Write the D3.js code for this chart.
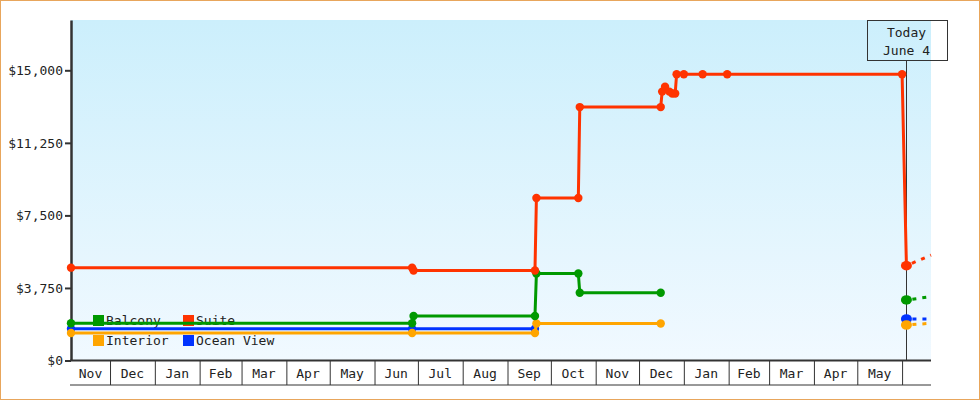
<!DOCTYPE html>
<html><head><meta charset="utf-8">
<script src="https://cdn.jsdelivr.net/npm/d3@7"></script>
<style>
html,body{margin:0;padding:0;background:#fff;}
svg{display:block;}
text{font-family:"DejaVu Sans Mono",monospace;font-size:13px;fill:#222;}
</style></head><body>
<svg id="chart" width="980" height="400"></svg>
<script>
// ---- data ----
const categories = ["Balcony", "Suite", "Interior", "Ocean View"];
const colors = ["#009900", "#ff3300", "#ffa500", "#0033ff"];

const balconyDates = ["2023-11-04","2024-06-27","2024-06-28","2024-09-20","2024-09-21","2024-10-20","2024-10-21","2024-12-16"];
const balconyPrices = [1925, 1925, 2299, 2299, 4499, 4499, 3499, 3499];

const suiteDates = ["2023-11-04","2024-06-27","2024-06-28","2024-09-20","2024-09-21","2024-10-20","2024-10-21","2024-12-16","2024-12-17","2024-12-19","2024-12-22","2024-12-24","2024-12-26","2024-12-27","2025-01-01","2025-01-14","2025-01-31","2025-06-01","2025-06-04"];
const suitePrices = [4799, 4799, 4649, 4649, 8399, 8399, 13099, 13099, 13899, 14149, 13899, 13799, 13799, 14799, 14799, 14799, 14799, 14799, 4899];

const interiorDates = ["2023-11-04","2024-06-27","2024-09-20","2024-09-21","2024-12-16"];
const interiorPrices = [1421, 1421, 1421, 1910, 1910];

const oceanDates = ["2023-11-04","2024-06-27","2024-09-20"];
const oceanPrices = [1640, 1640, 1640];

const todayDate = "2025-06-04";
const todayLabel = ["Today", "June 4"];
const todayPrices = [3129, 4899, 1835, 2145];     // Balcony, Suite, Interior, Ocean View
const projectionEnd = "2025-06-21";
const projectedPrices = [3298, 5450, 1923, 2145];

const axisStart = "2023-11-04";
const yTicks = [0, 3750, 7500, 11250, 15000];
const yMax = 17600;

// ---- build ----
const parse = d3.utcParse("%Y-%m-%d");
const seriesDates = [balconyDates, suiteDates, interiorDates, oceanDates];
const seriesPrices = [balconyPrices, suitePrices, interiorPrices, oceanPrices];
const series = categories.map((c, i) => ({
  name: c, color: colors[i],
  points: seriesDates[i].map((d, j) => ({date: parse(d), price: seriesPrices[i][j]})),
  today: {date: parse(todayDate), price: todayPrices[i]},
  proj: {date: parse(projectionEnd), price: projectedPrices[i]}
}));

const svg = d3.select("#chart");
const L = 71, R = 931, T = 20, B = 360.5, AX = 385;

const x = d3.scaleUtc().domain([parse(axisStart), parse(projectionEnd)]).range([L, R]);
const y = d3.scaleLinear().domain([0, yMax]).range([B, T]);

// outer border
svg.append("rect").attr("x", 0.5).attr("y", 0.5).attr("width", 979).attr("height", 399)
  .attr("fill", "none").attr("stroke", "#e8a65c");

// background gradient
const defs = svg.append("defs");
const grad = defs.append("linearGradient").attr("id", "bg").attr("x1", 0).attr("y1", 0).attr("x2", 0).attr("y2", 1);
grad.append("stop").attr("offset", "0%").attr("stop-color", "#cceffc");
grad.append("stop").attr("offset", "100%").attr("stop-color", "#f1f9ff");
svg.append("rect").attr("x", L).attr("y", T).attr("width", R - L).attr("height", B - T).attr("fill", "url(#bg)");

// y axis
const yAxis = d3.axisLeft(y).tickValues(yTicks).tickSize(6).tickSizeOuter(0).tickPadding(2)
  .tickFormat(d => "$" + d3.format(",")(d));
const gy = svg.append("g").attr("transform", `translate(${L},0)`).call(yAxis);
gy.select(".domain").attr("stroke", "#333").attr("stroke-width", 2.5);
gy.selectAll(".tick line").attr("stroke", "#333").attr("stroke-width", 2);
gy.selectAll(".tick text").attr("font-family", "DejaVu Sans Mono, monospace").attr("font-size", 13).attr("fill", "#333");

// x axis month boxes
const months = d3.utcMonth.range(d3.utcMonth.ceil(x.domain()[0]), x.domain()[1]);
const xAxis = d3.axisBottom(x).tickValues(months).tickSize(AX - B).tickSizeOuter(0).tickFormat("");
const gx = svg.append("g").attr("transform", `translate(0,${B})`).call(xAxis);
gx.select(".domain").remove();
gx.selectAll(".tick line").attr("stroke", "#333").attr("stroke-width", 1);
svg.append("line").attr("x1", L - 1).attr("x2", R).attr("y1", B).attr("y2", B).attr("stroke", "#333").attr("stroke-width", 2);
svg.append("line").attr("x1", L - 1).attr("x2", R).attr("y1", AX).attr("y2", AX).attr("stroke", "#333").attr("stroke-width", 1);
const monthStarts = [d3.utcMonth.floor(x.domain()[0])].concat(months);
const fmt = d3.utcFormat("%b");
monthStarts.forEach(m => {
  const a = Math.max(x(m), L), b = Math.min(x(d3.utcMonth.offset(m, 1)), R);
  if (b - a < 30) return;
  svg.append("text").attr("x", (a + b) / 2).attr("y", 377.5).attr("text-anchor", "middle").attr("fill", "#222").text(fmt(m));
});

// legend (below lines)
const legendPos = [[93, 315], [183, 315], [93, 335], [183, 335]];
series.forEach((s, i) => {
  const [lx, ly] = legendPos[i];
  svg.append("rect").attr("x", lx).attr("y", ly).attr("width", 11).attr("height", 11).attr("fill", s.color);
  svg.append("text").attr("x", lx + 13).attr("y", ly + 10).attr("fill", "#333").text(s.name);
});

// today marker
const tx = Math.round(x(parse(todayDate))) + 0.5;
svg.append("line").attr("x1", tx).attr("x2", tx).attr("y1", 60.5).attr("y2", B).attr("stroke", "#333").attr("stroke-width", 1);
svg.append("rect").attr("x", 867.5).attr("y", 20.5).attr("width", 80).attr("height", 40).attr("fill", "none").attr("stroke", "#333");
todayLabel.forEach((t, i) => {
  svg.append("text").attr("x", tx).attr("y", 37 + i * 17.5).attr("text-anchor", "middle").attr("fill", "#333").text(t);
});

// lines
const line = d3.line().x(d => x(d.date)).y(d => y(d.price));
const drawOrder = [3, 2, 0, 1];
drawOrder.forEach(i => {
  const s = series[i];
  svg.append("path").attr("d", line(s.points)).attr("fill", "none").attr("stroke", s.color).attr("stroke-width", 3);
  svg.selectAll(null).data(s.points).enter().append("circle")
    .attr("cx", d => x(d.date)).attr("cy", d => y(d.price)).attr("r", 4.2).attr("fill", s.color);
});
// projections + today points
series.forEach(s => {
  svg.append("path").attr("d", line([s.today, s.proj])).attr("fill", "none").attr("stroke", s.color)
    .attr("stroke-width", 3).attr("stroke-dasharray", "4,6").attr("stroke-dashoffset", -6);
});
drawOrder.forEach(i => {
  const s = series[i];
  svg.append("ellipse").attr("cx", x(s.today.date)).attr("cy", y(s.today.price)).attr("rx", 5.5).attr("ry", 4.8).attr("fill", s.color);
});
</script>
</body></html>
